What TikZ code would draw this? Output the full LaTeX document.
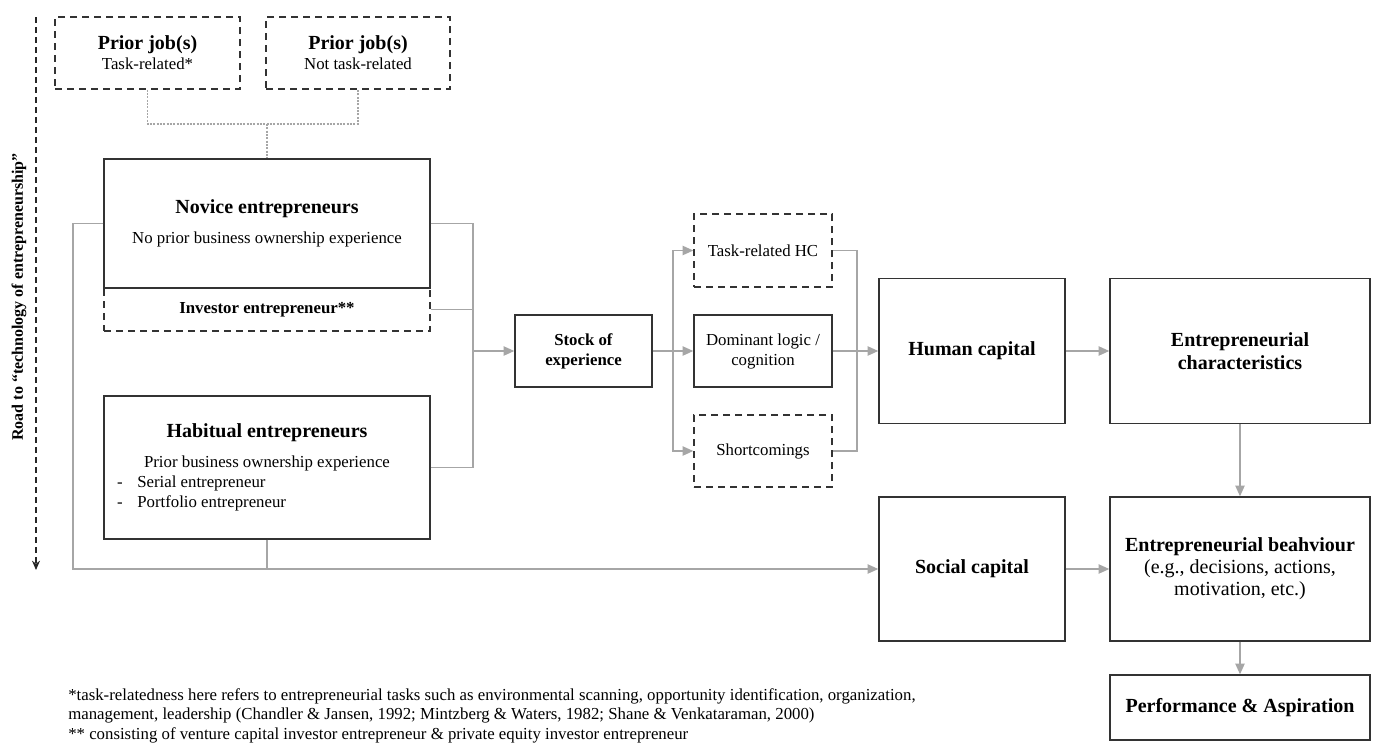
\documentclass[tikz,border=0pt]{standalone}
\usepackage{fontspec}
\setmainfont{Liberation Serif}
\usetikzlibrary{arrows.meta}

\newcommand{\fontBig}{\fontsize{15pt}{17pt}\selectfont\bfseries}
\newcommand{\fontMid}{\fontsize{15pt}{16.5pt}\selectfont}
\newcommand{\fontText}{\fontsize{12.6pt}{15pt}\selectfont}

\begin{document}
\begin{tikzpicture}[x=0.75pt, y=-0.75pt,
    box/.style={draw=\colorBox, line width=1.1pt, inner sep=0pt, align=center, font=\fontText},
    dashbox/.style={box, dash pattern=on 5.5pt off 3.5pt},
    boxsize/.style 2 args={minimum width=#1*0.75pt, minimum height=#2*0.75pt},
    conn/.style={draw=\colorConn, line width=1pt},
    arr/.style={conn, -{Triangle[length=8pt, width=7pt]}},
    jobline/.style={draw=\colorConn, line width=0.8pt, dash pattern=on 1.5pt off 1pt},
    roadline/.style={draw=black!85, line width=0.9pt, dash pattern=on 4.5pt off 3pt, -{Stealth[length=7pt, width=6pt]}},
    note/.style={anchor=base west, inner sep=0pt, font=\fontText}
]
    % Colori
    \def\colorBox{black!80}
    \def\colorConn{black!35}

    \path[use as bounding box, fill=white] (0,0) rectangle (1379,747);

    % Road to technology
    \coordinate (roadStart) at (36,17);
    \coordinate (roadEnd) at (36,570);
    \draw[roadline] (roadStart) -- (roadEnd);
    \node[rotate=90, font=\fontsize{12pt}{14pt}\selectfont\bfseries] (roadLabel) at (19,297) {Road to ``technology of entrepreneurship''};

    % Prior jobs
    \node[dashbox, boxsize={185}{72}] (jobTask) at (147.5,53) {{\fontBig Prior job(s)}\\Task-related*};
    \node[dashbox, boxsize={184}{72}] (jobOther) at (358,53) {{\fontBig Prior job(s)}\\Not task-related};

    % Entrepreneurs
    \node[dashbox, boxsize={326}{43}] (investor) at (267,309.5) {\textbf{Investor entrepreneur**}};
    \node[box, fill=white, boxsize={326}{129}] (novice) at (267,223.5) {{\fontBig Novice entrepreneurs}\\[7pt]No prior business ownership experience};
    \node[box, boxsize={326}{143}] (habitual) at (267,467.5) {{\fontBig Habitual entrepreneurs}\\[8pt]Prior business ownership experience\\
        \makebox[225pt][l]{-\hspace{11pt}Serial entrepreneur}\\
        \makebox[225pt][l]{-\hspace{11pt}Portfolio entrepreneur}};

    % Stock of experience
    \node[box, boxsize={137}{72}] (stock) at (583.5,351) {\textbf{Stock of}\\\textbf{experience}};
    \node[dashbox, boxsize={138}{73}] (taskHC) at (763,250.5) {Task-related HC};
    \node[box, boxsize={138}{72}] (dominant) at (763,351) {Dominant logic /\\cognition};
    \node[dashbox, boxsize={138}{72}] (shortcomings) at (763,451) {Shortcomings};

    % Capitals and outcomes
    \node[box, boxsize={186}{145}, font=\fontBig] (human) at (972,351) {Human capital};
    \node[box, boxsize={260}{145}, font=\fontBig] (entChar) at (1240,351) {Entrepreneurial\\characteristics};
    \node[box, boxsize={186}{144}, font=\fontBig] (social) at (972,569) {Social capital};
    \node[box, boxsize={260}{144}, font=\fontMid] (entBeh) at (1240,569) {\textbf{Entrepreneurial beahviour}\\(e.g., decisions, actions,\\motivation, etc.)};
    \node[box, boxsize={260}{65}, font=\fontBig] (perf) at (1240,707.5) {Performance \& Aspiration};

    % Connettori
    \coordinate (jobsJoin) at (267,124);
    \draw[jobline] (jobTask.south) |- (jobsJoin) -| (jobOther.south);
    \draw[jobline] (jobsJoin) -- (novice.north);

    \coordinate (leftBend) at (73,223.5);
    \draw[arr] (novice.west) -- (leftBend) |- (social.west);
    \draw[conn] (habitual.south) -- (habitual.south |- social.west);

    \coordinate (merge) at (473,351);
    \draw[conn] (novice.east) -| (merge);
    \draw[conn] (investor.east) -| (merge);
    \draw[conn] (habitual.east) -| (merge);
    \draw[arr] (merge) -- (stock.west);

    \coordinate (split) at (673,351);
    \draw[arr] (stock.east) -- (dominant.west);
    \draw[arr] (split) |- (taskHC.west);
    \draw[arr] (split) |- (shortcomings.west);

    \coordinate (join) at (857,351);
    \draw[conn] (taskHC.east) -| (join) |- (shortcomings.east);
    \draw[arr] (dominant.east) -- (human.west);
    \draw[arr] (human.east) -- (entChar.west);
    \draw[arr] (entChar.south) -- (entBeh.north);
    \draw[arr] (social.east) -- (entBeh.west);
    \draw[arr] (entBeh.south) -- (perf.north);

    % Note
    \node[note] (note1) at (68,700) {*task-relatedness here refers to entrepreneurial tasks such as environmental scanning, opportunity identification, organization,};
    \node[note] (note2) at (68,719.5) {management, leadership (Chandler \& Jansen, 1992; Mintzberg \& Waters, 1982; Shane \& Venkataraman, 2000)};
    \node[note] (note3) at (68,739) {** consisting of venture capital investor entrepreneur \& private equity investor entrepreneur};

\end{tikzpicture}
\end{document}
